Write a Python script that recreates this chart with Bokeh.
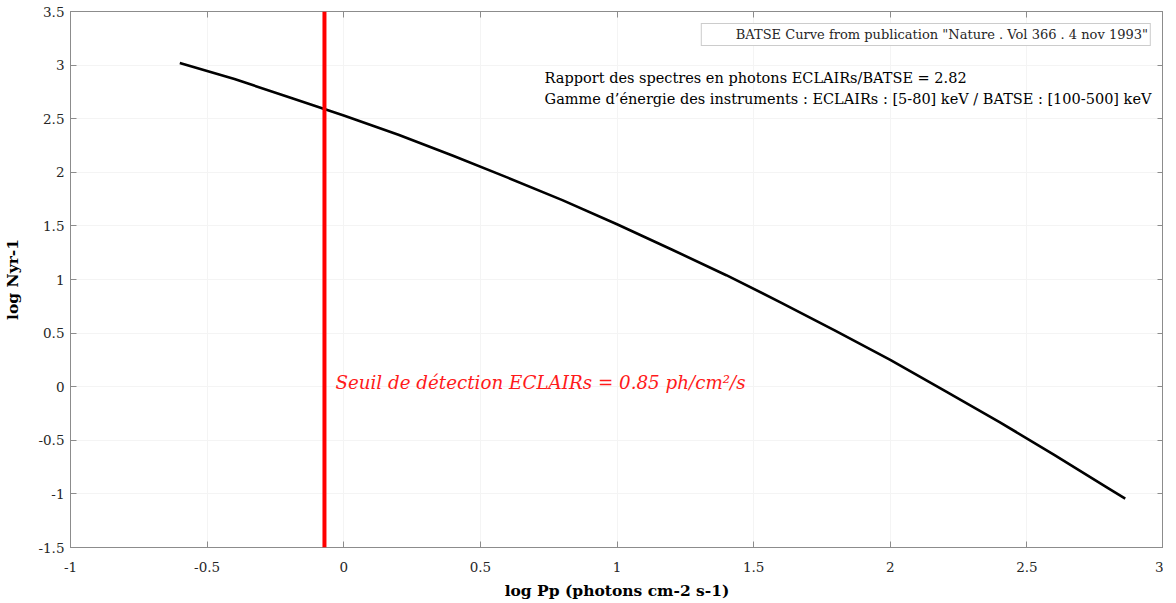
import math
from bokeh.plotting import figure
from bokeh.models import (Range1d, LinearAxis, FixedTicker, Span, Label, Legend, LegendItem)
from bokeh.embed import file_html
from bokeh.resources import INLINE

# ---- data ----
log_pp = [-0.6, -0.4, -0.2, 0.0, 0.2, 0.4, 0.6, 0.8, 1.0, 1.2, 1.4, 1.6, 1.8, 2.0, 2.2, 2.4, 2.6, 2.8, 2.86]
log_n = [3.02, 2.87, 2.70, 2.53, 2.35, 2.155, 1.95, 1.74, 1.515, 1.28, 1.04, 0.785, 0.52, 0.25,
         -0.04, -0.33, -0.635, -0.95, -1.045]
threshold_ph = 0.85
x_ticks = [-1, -0.5, 0, 0.5, 1, 1.5, 2, 2.5, 3]
x_tick_labels = ["-1", "-0.5", "0", "0.5", "1", "1.5", "2", "2.5", "3"]
y_ticks = [-1.5, -1, -0.5, 0, 0.5, 1, 1.5, 2, 2.5, 3, 3.5]
y_tick_labels = ["-1.5", "-1", "-0.5", "0", "0.5", "1", "1.5", "2", "2.5", "3", "3.5"]

FONT = "DejaVu Serif"
AX = "#8c8c8c"
TXT = "#262626"

p = figure(width=1163, height=602, output_backend="svg", toolbar_location=None,
           x_range=Range1d(-1, 3), y_range=Range1d(-1.5, 3.5),
           min_border_left=61, min_border_right=0, min_border_top=11, min_border_bottom=40,
           x_axis_label="log Pp (photons cm-2 s-1)", y_axis_label="log Nyr-1")
p.outline_line_color = AX
p.background_fill_color = "white"

def style_axis(ax, ticks, labels, show_labels=True):
    ax.ticker = FixedTicker(ticks=ticks)
    ax.major_label_overrides = {t: l for t, l in zip(ticks, labels)}
    ax.axis_line_color = AX
    ax.major_tick_line_color = AX
    ax.major_tick_in = 6
    ax.major_tick_out = 0
    ax.minor_tick_line_color = None
    ax.major_label_text_font = FONT
    ax.major_label_text_color = TXT
    ax.major_label_text_font_size = "13.5px" if show_labels else "0px"
    ax.major_label_standoff = 6 if show_labels else 0
    ax.axis_label_text_font = FONT
    ax.axis_label_text_font_style = "bold"
    ax.axis_label_text_font_size = "15.5px"
    ax.axis_label_text_color = "black"

style_axis(p.xaxis[0], x_ticks, x_tick_labels)
style_axis(p.yaxis[0], y_ticks, y_tick_labels)
p.xaxis[0].major_label_standoff = 14
p.xaxis[0].axis_label_standoff = 6
p.yaxis[0].axis_label_standoff = 13

top = LinearAxis()
style_axis(top, x_ticks, x_tick_labels, show_labels=False)
p.add_layout(top, "above")
right = LinearAxis()
style_axis(right, y_ticks, y_tick_labels, show_labels=False)
p.add_layout(right, "right")

p.xgrid.ticker = FixedTicker(ticks=x_ticks)
p.ygrid.ticker = FixedTicker(ticks=y_ticks)
p.grid.grid_line_color = "#f4f4f4"

curve = p.line(log_pp, log_n, line_color="black", line_width=2.6)

# invisible renderer for the legend entry with an empty sample
dummy = p.line([-5, -4], [-5, -4], line_alpha=0)
legend = Legend(items=[LegendItem(label='BATSE Curve from publication "Nature . Vol 366 . 4 nov 1993"',
                                  renderers=[dummy])],
                location="top_right")
legend.label_text_font = FONT
legend.label_text_font_size = "13px"
legend.label_text_color = TXT
legend.border_line_color = "#9a9a9a"
legend.border_line_width = 1
legend.margin = 12
legend.padding = 2
legend.glyph_width = 24
legend.label_standoff = 8
legend.label_height = 17
legend.glyph_height = 17
legend.spacing = 0
p.add_layout(legend)

thr_x = math.log10(threshold_ph)
p.add_layout(Span(location=thr_x, dimension="height", line_color="#ff0000", line_width=4))

p.add_layout(Label(x=thr_x + 0.04, y=0.04, text="Seuil de détection ECLAIRs = 0.85 ph/cm²/s",
                   text_font=FONT, text_font_style="italic", text_font_size="18.3px",
                   text_color="#ff1a1a", text_baseline="middle"))
p.add_layout(Label(x=0.735, y=2.884, text="Rapport des spectres en photons ECLAIRs/BATSE = 2.82",
                   text_font=FONT, text_font_size="14.5px", text_color="black", text_baseline="middle"))
p.add_layout(Label(x=0.735, y=2.688,
                   text="Gamme d\u2019énergie des instruments : ECLAIRs : [5-80] keV / BATSE : [100-500] keV",
                   text_font=FONT, text_font_size="14.5px", text_color="black", text_baseline="middle"))

open("out.html", "w").write(file_html(p, INLINE))
